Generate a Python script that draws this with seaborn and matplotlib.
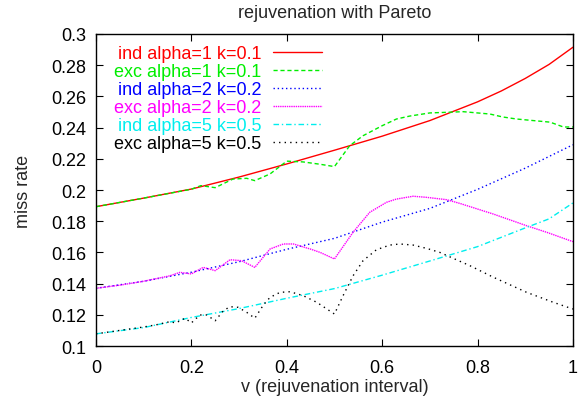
import numpy as np
import pandas as pd
import seaborn as sns
import matplotlib.pyplot as plt

# values
ind1_x = [0, 0.1, 0.2, 0.3, 0.4, 0.5, 0.6, 0.7, 0.8, 0.85, 0.9, 0.95, 1.0]
ind1_y = [0.1893, 0.1948, 0.2006, 0.2083, 0.2167, 0.2255, 0.2345, 0.2445, 0.2565, 0.2635, 0.2715, 0.2805, 0.2915]

exc1_x = [0, 0.1, 0.2, 0.22, 0.25, 0.287, 0.316, 0.333, 0.365, 0.4, 0.434, 0.47, 0.5,
          0.532, 0.56, 0.6, 0.63, 0.658, 0.7, 0.77, 0.826, 0.853, 0.882, 0.952, 0.98, 1.0]
exc1_y = [0.1893, 0.1948, 0.2005, 0.2028, 0.2015, 0.207, 0.2075, 0.206, 0.2103, 0.2185, 0.218, 0.2165, 0.2150,
          0.2284, 0.2348, 0.2412, 0.2455, 0.2474, 0.2494, 0.2502, 0.2487, 0.2468, 0.2455, 0.2435, 0.2404, 0.2404]

ind2_x = [0, 0.1, 0.2, 0.3, 0.4, 0.5, 0.6, 0.7, 0.8, 0.9, 1.0]
ind2_y = [0.137, 0.1415, 0.1473, 0.154, 0.162, 0.169, 0.1794, 0.1882, 0.2004, 0.214, 0.229]

exc2_x = [0, 0.05, 0.1, 0.155, 0.176, 0.2, 0.225, 0.25, 0.281, 0.305, 0.333, 0.365, 0.393, 0.414,
          0.449, 0.47, 0.5, 0.539, 0.574, 0.609, 0.63, 0.665, 0.693, 0.735, 0.763, 0.833, 0.903, 0.945, 1.0]
exc2_y = [0.137, 0.139, 0.1415, 0.145, 0.1472, 0.1462, 0.1504, 0.1483, 0.1553, 0.1547, 0.1504, 0.1622, 0.1654, 0.1654,
          0.1622, 0.160, 0.1558, 0.1729, 0.1857, 0.1921, 0.1942, 0.196, 0.1953, 0.1938, 0.1914, 0.1846, 0.1771, 0.1729, 0.1669]

ind5_x = [0, 0.1, 0.2, 0.3, 0.4, 0.5, 0.6, 0.7, 0.8, 0.9, 0.95, 1.0]
ind5_y = [0.1078, 0.1118, 0.1183, 0.124, 0.1306, 0.1368, 0.1454, 0.1545, 0.1637, 0.1757, 0.1815, 0.1917]

exc5_x = [0, 0.05, 0.1, 0.125, 0.155, 0.167, 0.187, 0.2, 0.218, 0.232, 0.25, 0.267, 0.281, 0.298, 0.316,
          0.333, 0.351, 0.365, 0.386, 0.407, 0.435, 0.463, 0.5, 0.518, 0.539, 0.56, 0.588, 0.616, 0.637,
          0.665, 0.693, 0.721, 0.749, 0.784, 0.833, 0.903, 0.959, 1.0]
exc5_y = [0.1078, 0.1100, 0.1122, 0.1135, 0.1156, 0.1148, 0.1178, 0.1148, 0.1199, 0.1199, 0.1162, 0.1226, 0.1252, 0.1248, 0.1216,
          0.1178, 0.1263, 0.1312, 0.1344, 0.1348, 0.1322, 0.128, 0.1205, 0.1322, 0.145, 0.1547, 0.1617, 0.1647, 0.1654,
          0.1647, 0.1626, 0.16, 0.1562, 0.1515, 0.1441, 0.1344, 0.128, 0.1237]

labels = ["ind alpha=1 k=0.1", "exc alpha=1 k=0.1", "ind alpha=2 k=0.2",
          "exc alpha=2 k=0.2", "ind alpha=5 k=0.5", "exc alpha=5 k=0.5"]
colors = ["#ff0000", "#00ee00", "#0000ff", "#ff00ff", "#00eeee", "#000000"]
styles = ["-", (0, (3, 2)), (0, (1, 2)), (0, (1, 0.6)), (0, (4, 2, 1, 2)), (0, (1, 3))]

xticks = [0, 0.2, 0.4, 0.6, 0.8, 1.0]
xtick_labels = ["0", "0.2", "0.4", "0.6", "0.8", "1"]
yticks = [0.1, 0.12, 0.14, 0.16, 0.18, 0.2, 0.22, 0.24, 0.26, 0.28, 0.3]
ytick_labels = ["0.1", "0.12", "0.14", "0.16", "0.18", "0.2", "0.22", "0.24", "0.26", "0.28", "0.3"]

series = [(ind1_x, ind1_y), (exc1_x, exc1_y), (ind2_x, ind2_y),
          (exc2_x, exc2_y), (ind5_x, ind5_y), (exc5_x, exc5_y)]

sns.set_style("ticks")
plt.rcParams["font.family"] = ["Liberation Sans", "DejaVu Sans"]
plt.rcParams["font.size"] = 13

fig = plt.figure(figsize=(5.87, 4.06), dpi=100)
ax = fig.add_axes([0.1635, 0.1453, 0.8125, 0.7685])

for (xs, ys), lab, col, ls in zip(series, labels, colors, styles):
    df = pd.DataFrame({"v": xs, "miss": ys})
    sns.lineplot(data=df, x="v", y="miss", ax=ax, color=col, linestyle=ls,
                 linewidth=1.0, label=lab, estimator=None, sort=False)

ax.set_xlim(0, 1)
ax.set_ylim(0.1, 0.3)
ax.set_xticks(xticks, xtick_labels)
ax.set_yticks(yticks, ytick_labels)
ax.tick_params(direction="in", length=5, width=0.8, top=True, right=True,
               labelsize=13, colors="black")
ax.tick_params(axis="x", pad=9)
ax.tick_params(axis="y", pad=7)
for sp in ax.spines.values():
    sp.set_linewidth(1.0)
    sp.set_color("black")

ax.set_xlabel("v (rejuvenation interval)", fontsize=13, labelpad=2)
ax.set_ylabel("miss rate", fontsize=13, labelpad=14)
ax.set_title("rejuvenation with Pareto", fontsize=13, pad=12)

leg = ax.legend(loc="upper right", bbox_to_anchor=(0.474, 0.965), frameon=False,
                markerfirst=False, labelcolor="linecolor", fontsize=13,
                handlelength=2.7, handletextpad=0.65, labelspacing=0.055,
                borderaxespad=0.0, borderpad=0.0)

fig.savefig("out.png", dpi=100)
